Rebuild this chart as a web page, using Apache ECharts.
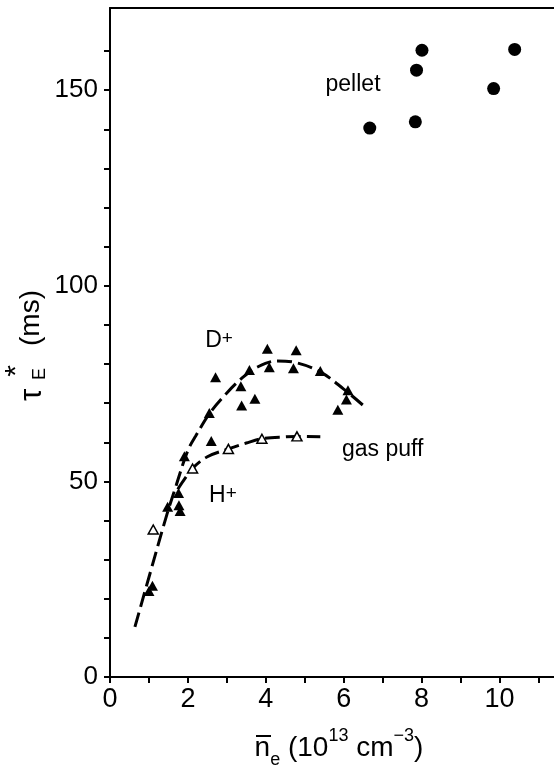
<!DOCTYPE html>
<html>
<head>
<meta charset="utf-8">
<script src="https://cdn.jsdelivr.net/npm/echarts@6/dist/echarts.min.js"></script>
<style>
html,body{margin:0;padding:0;background:#fff;}
#chart{width:554px;height:771px;}
</style>
</head>
<body>
<div id="chart"></div>
<script>
// ---- data ----
const xTicks = [0,1,2,3,4,5,6,7,8,9,10,11];
const xTickLabels = [0,2,4,6,8,10];
const yTicks = [0,10,20,30,40,50,60,70,80,90,100,110,120,130,140,150,160];
const yTickLabels = [0,50,100,150];

// D+ gas puff (filled triangles)
const dPlusPoints = [
  [1.00,22.0],[1.09,23.3],[1.48,43.5],[1.77,43.9],[1.80,42.4],[1.76,47.0],
  [1.91,56.4],[2.55,67.5],[2.60,60.3],[2.71,76.6],[3.36,74.3],[3.38,69.4],
  [3.58,78.5],[3.72,71.1],[4.04,83.9],[4.09,79.2],[4.71,78.9],[4.78,83.5],
  [5.40,78.2],[5.85,68.3],[6.07,70.9],[6.11,73.3]
];
// H+ gas puff (open triangles)
const hPlusPoints = [[1.11,37.7],[2.12,53.3],[3.04,58.3],[3.90,60.9],[4.80,61.5]];
// pellet (filled circles)
const pelletPoints = [[6.67,140.3],[7.84,141.9],[7.87,155.1],[8.01,160.2],[9.85,150.4],[10.39,160.4]];
// fitted dashed curves
const dPlusCurve = [
  [0.64,12.8],[1.00,25.5],[1.46,41.5],[1.70,49.0],[1.91,55.5],[2.05,59.0],
  [2.20,61.6],[2.55,67.3],[3.00,72.6],[3.40,76.5],[3.80,79.3],[4.30,80.8],
  [4.80,80.3],[5.40,78.0],[6.00,73.6],[6.55,69.0]
];
const hPlusCurve = [
  [1.74,48.0],[2.12,53.3],[2.50,56.3],[3.04,58.3],[3.50,59.8],[3.90,60.9],
  [4.50,61.4],[4.80,61.5],[5.40,61.4]
];
const annotations = [
  {text:'pellet', x:6.24, y:151.3},
  {text:'D', sup:'+', x:2.8, y:86.0},
  {text:'H', sup:'+', x:2.9, y:46.3},
  {text:'gas puff', x:7.0, y:58.0}
];

// ---- chart ----
const FONT = '"Liberation Sans", Arial, sans-serif';
const chart = echarts.init(document.getElementById('chart'), null, {renderer:'canvas'});

const axisLineStyle = {color:'#000', width:2};

const option = {
  backgroundColor:'#fff',
  animation:false,
  grid:{left:110, right:0, top:8, bottom:94, containLabel:false},
  xAxis:[{
    type:'value', min:0, max:11.4, position:'bottom',
    axisLine:{show:true, onZero:false, lineStyle:axisLineStyle},
    axisTick:{show:true, length:6, inside:false, lineStyle:{color:'#000', width:2}, customValues:xTicks},
    axisLabel:{show:true, margin:9, color:'#000', fontSize:27, fontFamily:FONT, customValues:xTickLabels},
    splitLine:{show:false}
  },{
    type:'value', min:0, max:11.4, position:'top',
    axisLine:{show:true, onZero:false, lineStyle:axisLineStyle},
    axisTick:{show:false}, axisLabel:{show:false}, splitLine:{show:false}
  }],
  yAxis:[{
    type:'value', min:0, max:171, position:'left',
    axisLine:{show:true, onZero:false, lineStyle:axisLineStyle},
    axisTick:{show:true, length:6, inside:false, lineStyle:{color:'#000', width:2}, customValues:yTicks},
    axisLabel:{show:true, margin:12, color:'#000', fontSize:26, fontFamily:FONT, customValues:yTickLabels},
    splitLine:{show:false}
  }],
  series:[
    {type:'line', data:dPlusCurve, smooth:0.35, showSymbol:false, symbol:'none',
     lineStyle:{color:'#000', width:3, type:[15,6], opacity:1}, z:2, silent:true},
    {type:'line', data:hPlusCurve, smooth:0.35, showSymbol:false, symbol:'none',
     lineStyle:{color:'#000', width:3, type:[15,6], opacity:1}, z:2, silent:true},
    {type:'scatter', data:dPlusPoints, symbol:'triangle', symbolSize:[11,10],
     itemStyle:{color:'#000', opacity:1}, z:3},
    {type:'scatter', data:hPlusPoints, symbol:'triangle', symbolSize:[10,9],
     itemStyle:{color:'#fff', borderColor:'#000', borderWidth:1.5, opacity:1}, z:3},
    {type:'scatter', data:pelletPoints, symbol:'circle', symbolSize:13,
     itemStyle:{color:'#000', opacity:1}, z:3},
    {type:'scatter', data:annotations.map(a=>({value:[a.x,a.y], txt:a.text, sup:a.sup||''})),
     symbolSize:0, z:4, silent:true, itemStyle:{opacity:1},
     label:{show:true, position:'inside', color:'#000', fontFamily:FONT, fontSize:23, opacity:1,
       formatter:p=>p.data.sup ? (p.data.txt + '{s|' + p.data.sup + '}') : p.data.txt,
       rich:{s:{fontSize:19, fontFamily:FONT, color:'#000', verticalAlign:'top', lineHeight:14}}}}
  ],
  graphic:[
    // x axis title
    {type:'text', x:339, y:748, z:10,
     style:{text:'{n|n}{sb|e}{n| (10}{sp|13}{n| cm}{sp|\u22123}{n|)}',
       align:'center', verticalAlign:'middle', fill:'#000',
       rich:{
         n:{fontSize:28, fontFamily:FONT, fill:'#000', lineHeight:42, verticalAlign:'middle'},
         sb:{fontSize:18, fontFamily:FONT, fill:'#000', lineHeight:18, verticalAlign:'bottom'},
         sp:{fontSize:18, fontFamily:FONT, fill:'#000', lineHeight:24, verticalAlign:'top'}
       }}},
    // overbar on n (mean density)
    {type:'line', z:10, shape:{x1:256, y1:736, x2:271, y2:736}, style:{stroke:'#000', lineWidth:2}},
    // y axis title pieces (rotated)
    {type:'text', x:32, y:395, rotation:Math.PI/2, z:10,
     style:{text:'\u03c4', fontSize:31, fontFamily:FONT, fill:'#000', align:'center', verticalAlign:'middle'}},
    {type:'text', x:40, y:374, rotation:Math.PI/2, z:10,
     style:{text:'E', fontSize:18, fontFamily:FONT, fill:'#000', align:'center', verticalAlign:'middle'}},
    {type:'text', x:17, y:371, rotation:Math.PI/2, z:10,
     style:{text:'*', fontSize:30, fontFamily:FONT, fill:'#000', align:'center', verticalAlign:'middle'}},
    {type:'text', x:31, y:318, rotation:Math.PI/2, z:10,
     style:{text:'(ms)', fontSize:28, fontFamily:FONT, fill:'#000', align:'center', verticalAlign:'middle'}}
  ]
};
chart.setOption(option);
</script>
</body>
</html>
